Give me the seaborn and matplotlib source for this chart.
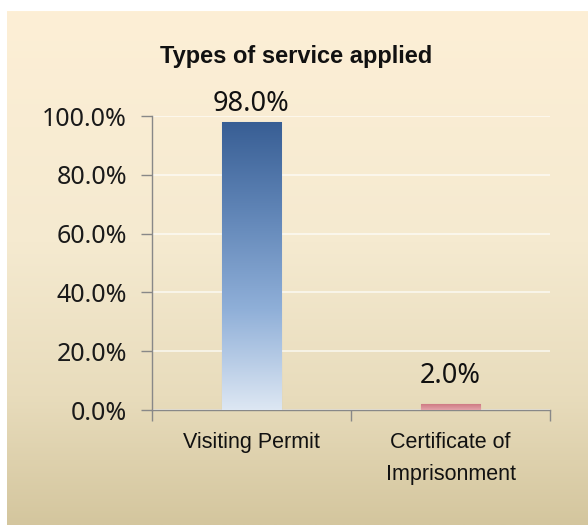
import numpy as np
import pandas as pd
import matplotlib
matplotlib.use("Agg")
import matplotlib.pyplot as plt
from matplotlib.colors import LinearSegmentedColormap
import seaborn as sns

categories = ["Visiting Permit", "Certificate of\nImprisonment"]
values = [0.98, 0.02]
value_labels = ["98.0%", "2.0%"]
ytick_values = [0.0, 0.2, 0.4, 0.6, 0.8, 1.0]
ytick_labels = ["0.0%", "20.0%", "40.0%", "60.0%", "80.0%", "100.0%"]
title = "Types of service applied"

sns.set_theme(style="white")
plt.rcParams['font.family'] = ['Noto Sans', 'DejaVu Sans']
narrow = ['DejaVu Sans Condensed', 'Liberation Sans Narrow', 'Liberation Sans', 'DejaVu Sans']

W, H = 588, 525
fig = plt.figure(figsize=(W / 100, H / 100), dpi=100)
fig.patch.set_facecolor("white")

# background gradient panel
bg = fig.add_axes([7 / W, 0, 1 - 7 / W, 1 - 11 / H], zorder=0)
bg_cmap = LinearSegmentedColormap.from_list(
    "bg", [(0.0, "#FDEFD6"), (0.45, "#F5EAD0"), (0.75, "#E8DCBC"), (1.0, "#D4C69E")])
grad = np.linspace(0, 1, 256).reshape(-1, 1)
bg.imshow(grad, aspect="auto", cmap=bg_cmap, extent=[0, 1, 0, 1], origin="upper")
bg.set_axis_off()

ax = fig.add_axes([152 / W, (H - 410) / H, (550 - 152) / W, (410 - 116) / H], zorder=1)
ax.patch.set_alpha(0)

df = pd.DataFrame({"cat": categories, "val": values})
sns.barplot(data=df, x="cat", y="val", ax=ax, width=0.30,
            palette=["#5B80B2", "#D4848C"], hue="cat", legend=False,
            saturation=1, zorder=3)

# gradient fills for bars
bar_cmaps = [
    LinearSegmentedColormap.from_list("b1", [(0.0, "#DDE7F3"), (0.35, "#8FAFD8"), (0.7, "#5E83B5"), (1.0, "#385E94")]),
    LinearSegmentedColormap.from_list("b2", [(0.0, "#E3A3AA"), (1.0, "#CF7A83")]),
]
edge_colors = ["#9DB6D6", "#D98A93"]
ax.set_xlim(-0.5, 1.5)
ax.set_ylim(0, 1.0)
for patch, cm, ec in zip(ax.patches, bar_cmaps, edge_colors):
    x0, y0 = patch.get_x(), patch.get_y()
    w, h = patch.get_width(), patch.get_height()
    img = ax.imshow(np.linspace(0, 1, 256).reshape(-1, 1), cmap=cm, origin="lower",
                    extent=[x0, x0 + w, y0, y0 + h], aspect="auto", zorder=3)
    img.set_clip_path(patch)
    patch.set_facecolor("none")
    patch.set_edgecolor(ec)
    patch.set_linewidth(0.8)
ax.set_xlim(-0.5, 1.5)
ax.set_ylim(0, 1.0)

# labels above bars (gap in pixels, as in the reference rendering)
label_gap_px = [4, 14]
for i, (v, lab) in enumerate(zip(values, value_labels)):
    ax.annotate(lab, xy=(i, v), xytext=(0, label_gap_px[i] * 0.72), textcoords="offset points",
                ha="center", va="bottom", fontsize=19.5, color="#111111")

ax.set_yticks(ytick_values)
ax.set_yticklabels(ytick_labels, fontsize=18, color="#1a1a1a")
ax.set_xticks([-0.5, 0.5, 1.5])
ax.set_xticklabels([])
ax.set_xticks([0, 1], minor=True)
ax.set_xticklabels(categories, minor=True, fontsize=15.5, family=narrow, color="#111111",
                   linespacing=1.7)
ax.tick_params(axis="x", which="minor", length=0, pad=16)
ax.tick_params(axis="x", which="major", length=8, width=1, color="#888888", direction="out", bottom=True)
ax.tick_params(axis="y", length=8, width=1, color="#888888", direction="out", left=True, pad=10)
ax.set_xlabel("")
ax.set_ylabel("")

ax.grid(axis="y", color="#FFFFFF", alpha=0.7, linewidth=1.2, zorder=0)
ax.set_axisbelow(True)
for s in ["top", "right"]:
    ax.spines[s].set_visible(False)
for s in ["left", "bottom"]:
    ax.spines[s].set_color("#888888")
    ax.spines[s].set_linewidth(1)

fig.text((160 + 432) / 2 / W, 1 - 57 / H, title, ha="center", va="center",
         fontsize=17, fontweight="bold", family=narrow, color="#111111")

fig.savefig("out.png", dpi=100)
